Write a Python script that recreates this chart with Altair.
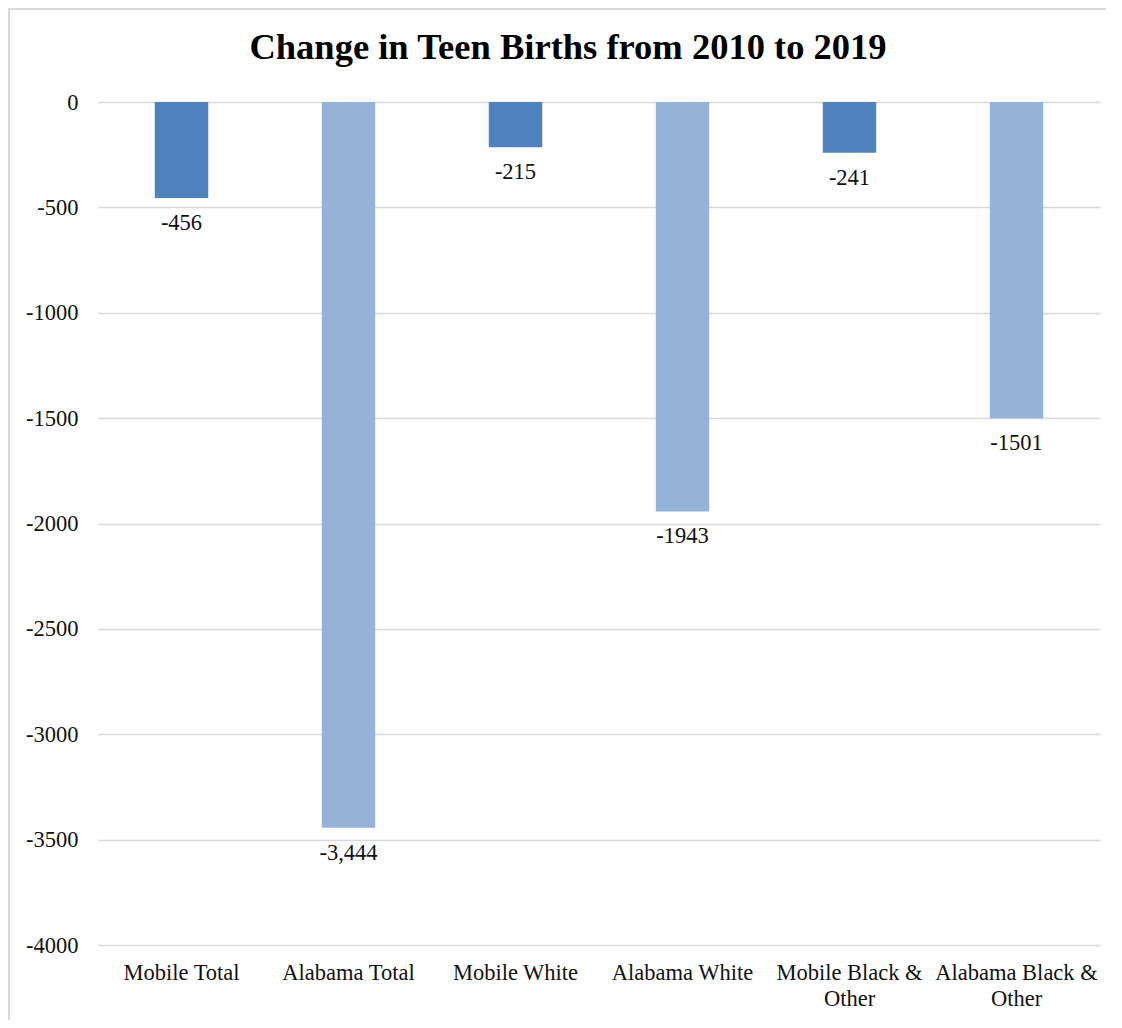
import altair as alt
import pandas as pd

title_text = "Change in Teen Births from 2010 to 2019"
categories = ["Mobile Total", "Alabama Total", "Mobile White", "Alabama White",
              "Mobile Black & Other", "Alabama Black & Other"]
values = [-456, -3444, -215, -1943, -241, -1501]
value_labels = ["-456", "-3,444", "-215", "-1943", "-241", "-1501"]
groups = ["Mobile", "Alabama", "Mobile", "Alabama", "Mobile", "Alabama"]
y_ticks = [0, -500, -1000, -1500, -2000, -2500, -3000, -3500, -4000]

df = pd.DataFrame({"cat": categories, "val": values, "lab": value_labels, "grp": groups})

FONT = "Liberation Serif"
FS = 22.5
W, H = 1002, 843

x = alt.X("cat:N", sort=categories, title=None,
          scale=alt.Scale(paddingInner=0.68, paddingOuter=0.34),
          axis=alt.Axis(labelAngle=0, domain=False, ticks=False, labelFont=FONT,
                        labelFontSize=FS, labelColor="#111111", labelPadding=16,
                        labelBaseline="top", labelLineHeight=26, labelLimit=300,
                        labelExpr="indexof(datum.label, 'Black') >= 0 ? [replace(datum.label, ' Other', ''), 'Other'] : datum.label"))
y = alt.Y("val:Q", title=None,
          scale=alt.Scale(domain=[-4000, 0], nice=False),
          axis=alt.Axis(values=y_ticks, domain=False, ticks=False, grid=True,
                        gridColor="#D9D9D9", gridWidth=1.5, labelFont=FONT,
                        labelFontSize=FS, labelColor="#111111", labelPadding=20,
                        labelExpr="'' + datum.value"))

bars = alt.Chart(df).mark_bar().encode(
    x=x, y=y,
    color=alt.Color("grp:N", scale=alt.Scale(domain=["Mobile", "Alabama"],
                                             range=["#4F81BD", "#95B3D7"]), legend=None),
)

labels = alt.Chart(df).mark_text(font=FONT, fontSize=FS, color="#111111",
                                 baseline="middle", dy=25).encode(
    x=alt.X("cat:N", sort=categories), y="val:Q", text="lab:N")

frame = alt.Chart(pd.DataFrame({"a": [0]})).mark_rect(
    fill=None, stroke="#D9D9D9", strokeWidth=2).encode(
    x=alt.value(-89), x2=alt.value(W + 40), y=alt.value(-93), y2=alt.value(H + 120))

title = alt.Chart(pd.DataFrame({"t": [title_text]})).mark_text(
    font=FONT, fontSize=36.5, fontWeight="bold", color="#000000",
    align="center", baseline="alphabetic").encode(
    x=alt.value(470), y=alt.value(-43), text="t:N")

chart = alt.layer(frame, title, bars, labels).properties(
    width=W, height=H,
    autosize=alt.AutoSizeParams(type="none"),
    padding={"left": 90, "top": 94, "right": 6, "bottom": 75},
).configure(background="white", view=alt.ViewConfig(stroke=None))

chart.save("out.html", embed_options={"renderer": "svg", "actions": False})
